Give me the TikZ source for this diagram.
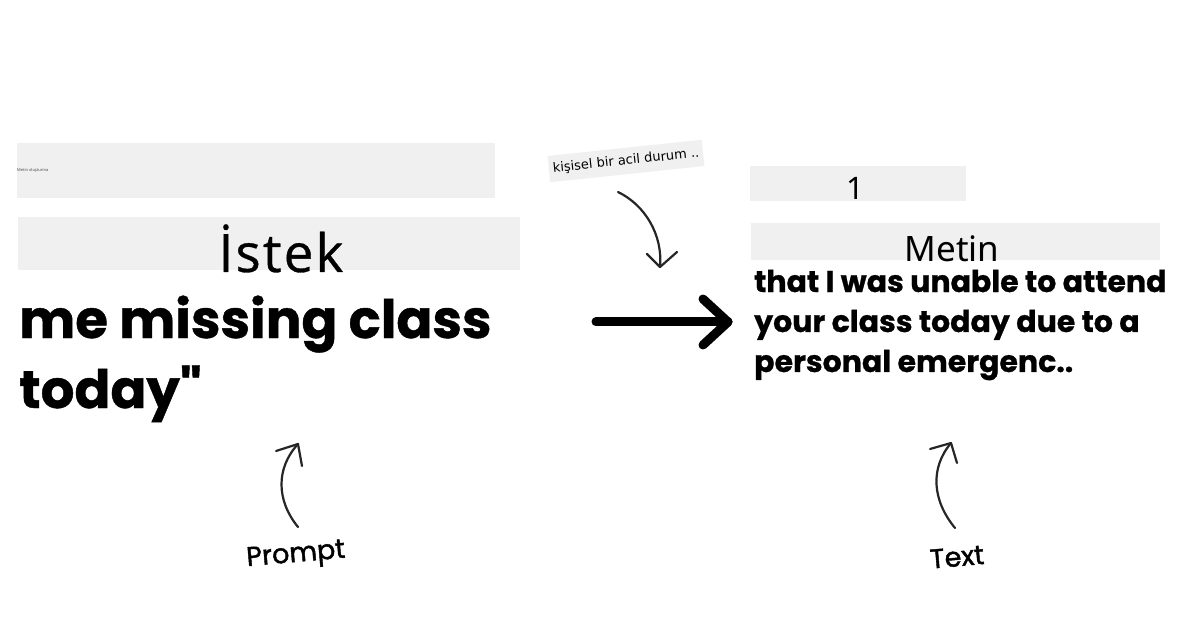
\documentclass[tikz,border=0pt]{standalone}
\usepackage{fontspec}
\setmainfont{Noto Sans}
\newfontfamily\popfont[BoldFeatures={FakeBold=0.8}]{Poppins}
\newfontfamily\tagfont[FakeBold=1.6]{Poppins}
\newfontfamily\headfont[FakeBold=0.6, LetterSpace=4]{Open Sans}
\newfontfamily\dejafont{DejaVu Sans}
\definecolor{barbg}{HTML}{F0F0F0}
\begin{document}
\begin{tikzpicture}[x=1pt,y=-1pt]
\tikzset{
  greybar/.style={fill=barbg, draw=none, inner sep=0pt},
  bigtext/.style={font=\popfont\bfseries\fontsize{53}{70}\selectfont, align=left, inner sep=0pt, anchor=base west},
  outtext/.style={font=\popfont\bfseries\fontsize{30}{40}\selectfont, align=left, inner sep=0pt, anchor=base west},
  hand/.style={line width=2.2pt, line cap=round, line join=round, black!85},
  fat/.style={line width=9pt, line cap=round, line join=round},
  tag/.style={font=\tagfont\fontsize{27}{27}\selectfont, inner sep=0pt}
}
\useasboundingbox (0,0) rectangle (1200,628);
\fill[white] (0,0) rectangle (1200,628);

% left column: context bar, heading bar and the prompt text
\node[greybar, minimum width=478pt, minimum height=55pt, anchor=north west] (ctxbar) at (17,143) {};
\node[anchor=west, inner sep=0pt, text=black!70, font=\fontsize{4}{4}\selectfont] (ctxtext) at (17,170) {Metin oluşturma};
\node[greybar, minimum width=502pt, minimum height=53pt, anchor=north west] (reqbar) at (18,217) {};
\node[font=\headfont\fontsize{53}{53}\selectfont, anchor=base, inner sep=0pt] (istek) at (281,272) {İstek};
% base anchor of a multi-line node sits on its last line
\node[bigtext] (prompt) at (19,408) {me missing class\\today"};

% right column: number bar, heading bar and the generated text
\node[greybar, minimum width=216pt, minimum height=35pt, anchor=north west] (numbar) at (750,166) {};
\node[font=\fontsize{31}{31}\selectfont, anchor=base, inner sep=0pt] (num) at (855,200) {1};
\node[greybar, minimum width=409pt, minimum height=37pt, anchor=north west] (txtbar) at (751,223) {};
\node[font=\fontsize{35}{35}\selectfont, anchor=base, inner sep=0pt] (metin) at (952,262) {Metin};
\node[outtext] (output) at (754,372) {that I was unable to attend\\your class today due to a\\personal emergenc..};

% small rotated note
\node[fill=barbg, rotate=6, inner xsep=4pt, inner ysep=7pt, font=\dejafont\fontsize{13}{13}\selectfont] (note) at (626,161) {kişisel bir acil durum ..};

% main arrow between prompt and output
\coordinate (mainfrom) at (596,322);
\coordinate (maintip) at (728,322);
\draw[fat] (mainfrom) -- (maintip);
\draw[fat] (703,299) -- (maintip) -- (703,345);

% note arrow
\coordinate (notefrom) at (618,192);
\coordinate (notetip) at (660,267);
\draw[hand] (notefrom) .. controls (645,205) and (663,235) .. (notetip);
\draw[hand] (647,254) -- (notetip) -- (677,252);

% labels with their arrows
\node[tag, rotate=5] (plabel) at (296,556) {Prompt};
\coordinate (pfrom) at (298,527);
\coordinate (ptip) at (298,444);
\draw[hand] (pfrom) .. controls (276,500) and (276,468) .. (ptip);
\draw[hand] (276,451) -- (ptip) -- (302,466);

\node[tag, rotate=5] (tlabel) at (957,557) {Text};
\coordinate (tfrom) at (955,528);
\coordinate (ttip) at (951,443);
\draw[hand] (tfrom) .. controls (932,500) and (930,468) .. (ttip);
\draw[hand] (930,449) -- (ttip) -- (957,463);
\end{tikzpicture}
\end{document}
